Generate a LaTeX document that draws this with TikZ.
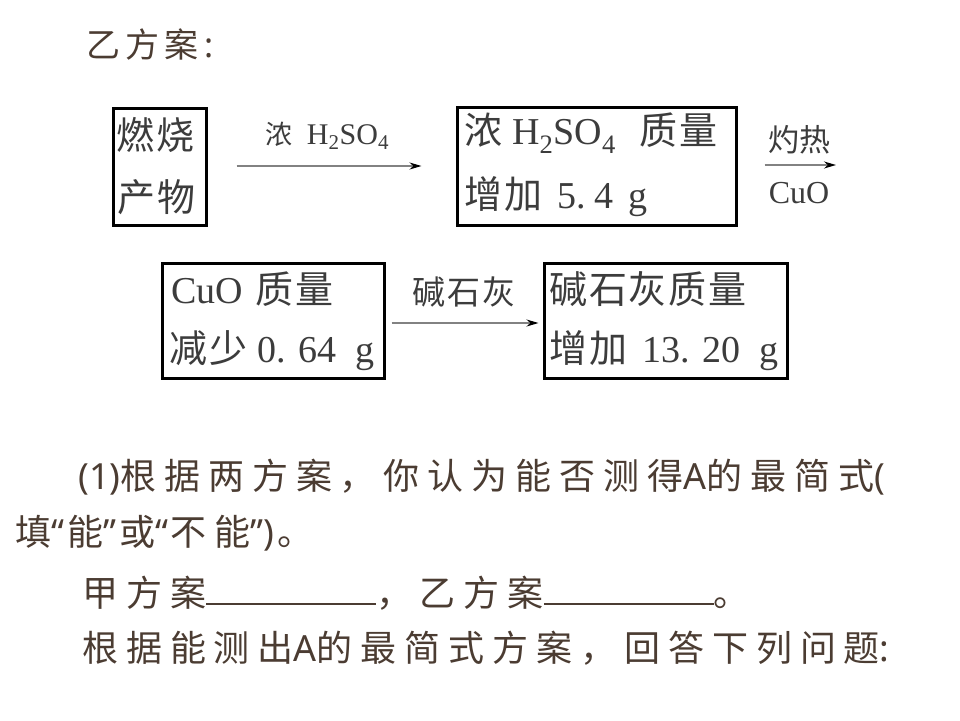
\documentclass[tikz,border=0pt]{standalone}
\usepackage{fontspec}
\setmainfont{Liberation Serif}
\newfontfamily\cjk{Noto Sans CJK SC}
\newfontfamily\cjkb{Noto Sans CJK SC}[LetterSpace=5]
\newfontfamily\cjkspaced{Noto Sans CJK SC}[LetterSpace=22]
\newfontfamily\cjktitle{Noto Sans CJK SC}[LetterSpace=15]
\newfontfamily\latinsans{Noto Sans}
\newcommand\latx[1]{{\latinsans #1}}
\usetikzlibrary{arrows.meta}
\definecolor{ink}{RGB}{75,60,50}
\definecolor{boxtext}{RGB}{60,60,60}
\definecolor{arrowgray}{RGB}{130,130,130}
\tikzset{
  box/.style={draw=black, line width=3pt, rectangle, inner sep=0pt},
  boxline/.style={anchor=west, inner sep=0pt, text=boxtext, font=\fontsize{38}{40}\selectfont},
  arrlabel/.style={inner sep=0pt, text=boxtext},
  flow/.style={draw=arrowgray, line width=1.5pt, -{Stealth[length=12pt,width=7pt,black]}},
  para/.style={anchor=west, inner sep=0pt, text=ink, font=\fontsize{36}{40}\selectfont\cjkspaced}
}
\begin{document}
\begin{tikzpicture}[x=1pt,y=-1pt]
\useasboundingbox[fill=white] (0,0) rectangle (960,720);

% title
\node[para, font=\fontsize{34}{38}\selectfont\cjktitle] (title) at (86,45) {乙方案\hspace{6pt}\latx{:}};

% boxes
\node[box, minimum width=93pt, minimum height=117pt] (b1) at (160,166.5) {};
\node[box, minimum width=279pt, minimum height=118pt] (b2) at (596.5,166) {};
\node[box, minimum width=222pt, minimum height=115pt] (b3) at (273.5,321) {};
\node[box, minimum width=243pt, minimum height=115pt] (b4) at (665.5,321) {};

% box texts
\node[boxline] (b1a) at (116,135) {\cjkb 燃烧};
\node[boxline] (b1b) at (117,197) {\cjkb 产物};
\node[boxline] (b2a) at (464,133) {{\cjkb 浓}\hspace{10pt}H\textsubscript{2}SO\textsubscript{4}\hspace{24pt}{\cjkb 质量}};
\node[boxline] (b2b) at (464,197) {{\cjkb 增加}\hspace{15pt}5.\hspace{9pt}4\hspace{15pt}g};
\node[boxline] (b3a) at (171,289) {CuO\hspace{13pt}{\cjkb 质量}};
\node[boxline] (b3b) at (169,351) {{\cjkb 减少}\hspace{10pt}0.\hspace{12.5pt}64\hspace{19pt}g};
\node[boxline] (b4a) at (549,289) {\cjkb 碱石灰质量};
\node[boxline] (b4b) at (549,351) {{\cjkb 增加}\hspace{15pt}13.\hspace{12.5pt}20\hspace{19pt}g};

% arrows
\coordinate (a2end) at (836,165);
\draw[flow, shorten <=28.5pt, shorten >=34pt] (b1.east |- 0,166) -- (b2.west |- 0,166);
\draw[flow, shorten <=27pt] (b2.east |- 0,165) -- (a2end);
\draw[flow, shorten <=5.5pt, shorten >=4pt] (b3.east |- 0,323) -- (b4.west |- 0,323);

% arrow labels
\node[arrlabel, font=\fontsize{30}{32}\selectfont] (l1) at (327.5,136) {{\fontsize{27}{30}\selectfont\cjk 浓}\hspace{14pt}H\textsubscript{2}SO\textsubscript{4}};
\node[arrlabel, font=\fontsize{31}{33}\selectfont\cjk] (l2a) at (799,140) {灼热};
\node[arrlabel, font=\fontsize{32}{34}\selectfont] (l2b) at (799,193) {CuO};
\node[arrlabel, font=\fontsize{33}{36}\selectfont\cjkb] (l3) at (464,292) {碱石灰};

% bottom paragraph
\node[para] (p1) at (78,477) {\latx{(1)}根据两方案，你认为能否测得\latx{A}的最简式\latx{(}};
\node[para] (p2) at (15,533) {填\latx{“}\hspace{3pt}能\latx{”}\hspace{3pt}或\latx{“}\hspace{3pt}不能\latx{”)}\hspace{3pt}。};
\node[para] (p3) at (82,593) {甲方案\textcolor{ink}{\rule[1pt]{170pt}{2.5pt}}，乙方案\textcolor{ink}{\rule[1pt]{170pt}{2.5pt}}。};
\node[para] (p4) at (82,648) {根据能测出\latx{A}的最简式方案，回答下列问题\latx{:}};
\end{tikzpicture}
\end{document}
